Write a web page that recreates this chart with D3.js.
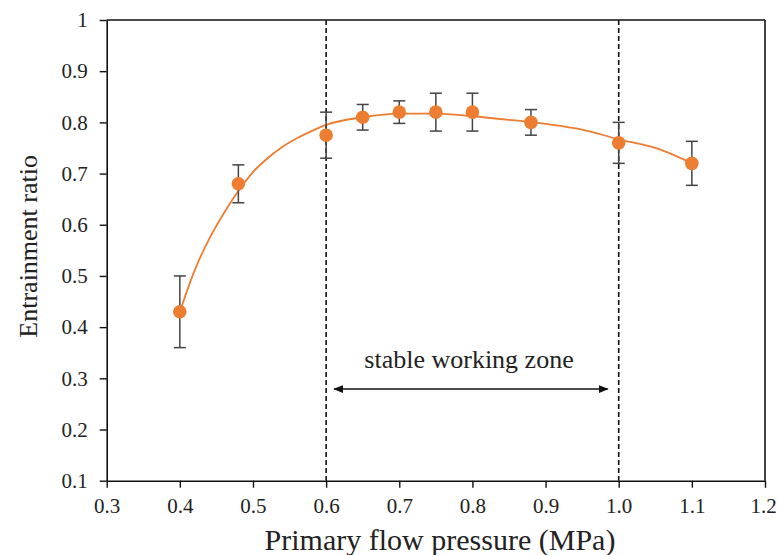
<!DOCTYPE html>
<html>
<head>
<meta charset="utf-8">
<script src="https://cdn.jsdelivr.net/npm/d3@7"></script>
<style>
  body { margin: 0; background: #fff; }
  svg { display: block; }
</style>
</head>
<body>
<svg id="chart" width="777" height="555"></svg>
<script>
// ---- data ----
const pressure = [0.4, 0.48, 0.6, 0.65, 0.7, 0.75, 0.8, 0.88, 1.0, 1.1];
const ratio    = [0.43, 0.68, 0.775, 0.81, 0.82, 0.82, 0.82, 0.80, 0.76, 0.72];
const errors   = [0.07, 0.037, 0.045, 0.025, 0.022, 0.037, 0.037, 0.025, 0.04, 0.043];

// trendline
const trendX = [0.4, 0.42, 0.44, 0.46, 0.48, 0.5, 0.52, 0.54, 0.56, 0.58, 0.6, 0.65, 0.7, 0.75, 0.8, 0.85, 0.9, 0.95, 1.0, 1.05, 1.1];
const trendY = [0.43, 0.51, 0.572, 0.622, 0.666, 0.703, 0.73, 0.752, 0.769, 0.783, 0.795, 0.81, 0.817, 0.817, 0.812, 0.805, 0.797, 0.786, 0.767, 0.75, 0.72];

const xTicks = [0.3, 0.4, 0.5, 0.6, 0.7, 0.8, 0.9, 1.0, 1.1, 1.2];
const yTicks = [0.1, 0.2, 0.3, 0.4, 0.5, 0.6, 0.7, 0.8, 0.9, 1.0];
const zoneBounds = [0.6, 1.0];
const arrowLevel = 0.279;
const zoneLabel = "stable working zone";
const xTitle = "Primary flow pressure (MPa)";
const yTitle = "Entrainment ratio";

// ---- layout ----
const L = 106.7, R = 765, T = 20, B = 480.7;
const FONT = "'Liberation Serif', 'Times New Roman', monospace";
const svg = d3.select("#chart");
const x = d3.scaleLinear().domain([0.3, 1.2]).range([L, R]);
const y = d3.scaleLinear().domain([0.1, 1.0]).range([B, T]);

const fmtY = d => (d === 1 ? "1" : d3.format(".1f")(d));
const fmtX = d3.format(".1f");

// axes
const xAxis = svg.append("g").attr("transform", `translate(0,${B})`)
  .call(d3.axisBottom(x).tickValues(xTicks).tickFormat(fmtX).tickSize(7).tickSizeOuter(0).tickPadding(10));
const yAxis = svg.append("g").attr("transform", `translate(${L},0)`)
  .call(d3.axisLeft(y).tickValues(yTicks).tickFormat(fmtY).tickSize(7).tickSizeOuter(0).tickPadding(12));
[xAxis, yAxis].forEach(g => {
  g.attr("font-family", null);
  g.select(".domain").attr("stroke", "#111").attr("stroke-width", 1.6);
  g.selectAll(".tick line").attr("stroke", "#111").attr("stroke-width", 1.4);
  g.selectAll(".tick text").attr("font-size", 21).attr("fill", "#222")
    .style("font-family", FONT);
});
xAxis.selectAll(".tick text").attr("dy", "0.75em")
  .attr("dx", d => (d === xTicks[xTicks.length - 1] ? -2 : 0));

// box top & right
svg.append("line").attr("x1", L).attr("x2", R).attr("y1", T).attr("y2", T)
  .attr("stroke", "#111").attr("stroke-width", 1.6);
svg.append("line").attr("x1", R).attr("x2", R).attr("y1", T).attr("y2", B)
  .attr("stroke", "#111").attr("stroke-width", 1.6);

// dashed zone lines
svg.selectAll(".zone").data(zoneBounds).enter().append("line")
  .attr("x1", d => x(d)).attr("x2", d => x(d)).attr("y1", T).attr("y2", B)
  .attr("stroke", "#111").attr("stroke-width", 1.6).attr("stroke-dasharray", "5,3");

// trendline
const line = d3.line().x((d, i) => x(trendX[i])).y(d => y(d)).curve(d3.curveMonotoneX);
svg.append("path").datum(trendY).attr("d", line)
  .attr("fill", "none").attr("stroke", "#ED7D31").attr("stroke-width", 1.8);

// error bars
const eb = svg.append("g").attr("stroke", "#444").attr("stroke-width", 1.5);
pressure.forEach((p, i) => {
  const cx = x(p), y1 = y(ratio[i] + errors[i]), y2 = y(ratio[i] - errors[i]);
  eb.append("line").attr("x1", cx).attr("x2", cx).attr("y1", y1).attr("y2", y2);
  eb.append("line").attr("x1", cx - 6).attr("x2", cx + 6).attr("y1", y1).attr("y2", y1);
  eb.append("line").attr("x1", cx - 6).attr("x2", cx + 6).attr("y1", y2).attr("y2", y2);
});

// markers
svg.selectAll(".pt").data(pressure).enter().append("circle")
  .attr("cx", d => x(d)).attr("cy", (d, i) => y(ratio[i])).attr("r", 6.8)
  .attr("fill", "#ED7D31");

// arrow
const defs = svg.append("defs");
defs.append("marker").attr("id", "ah").attr("viewBox", "0 0 10 10")
  .attr("refX", 9).attr("refY", 5).attr("markerWidth", 10).attr("markerHeight", 10)
  .attr("markerUnits", "userSpaceOnUse").attr("orient", "auto-start-reverse")
  .append("path").attr("d", "M0,1 L10,5 L0,9 Z").attr("fill", "#111");
const ax1 = x(zoneBounds[0]) + 8, ax2 = x(zoneBounds[1]) - 11;
svg.append("line").attr("x1", ax1).attr("x2", ax2).attr("y1", y(arrowLevel)).attr("y2", y(arrowLevel))
  .attr("stroke", "#111").attr("stroke-width", 1.6)
  .attr("marker-start", "url(#ah)").attr("marker-end", "url(#ah)");
svg.append("text").attr("x", 469).attr("y", 368).attr("text-anchor", "middle")
  .attr("fill", "#222").style("font-family", FONT).attr("font-size", 26).text(zoneLabel);

// titles
svg.append("text").attr("x", 440).attr("y", 550).attr("text-anchor", "middle")
  .attr("fill", "#222").style("font-family", FONT).attr("font-size", 30).text(xTitle);
svg.append("text").attr("transform", `translate(37,${(T + B) / 2 - 4}) rotate(-90)`)
  .attr("text-anchor", "middle").attr("fill", "#222").style("font-family", FONT)
  .attr("font-size", 26).text(yTitle);
</script>
</body>
</html>
